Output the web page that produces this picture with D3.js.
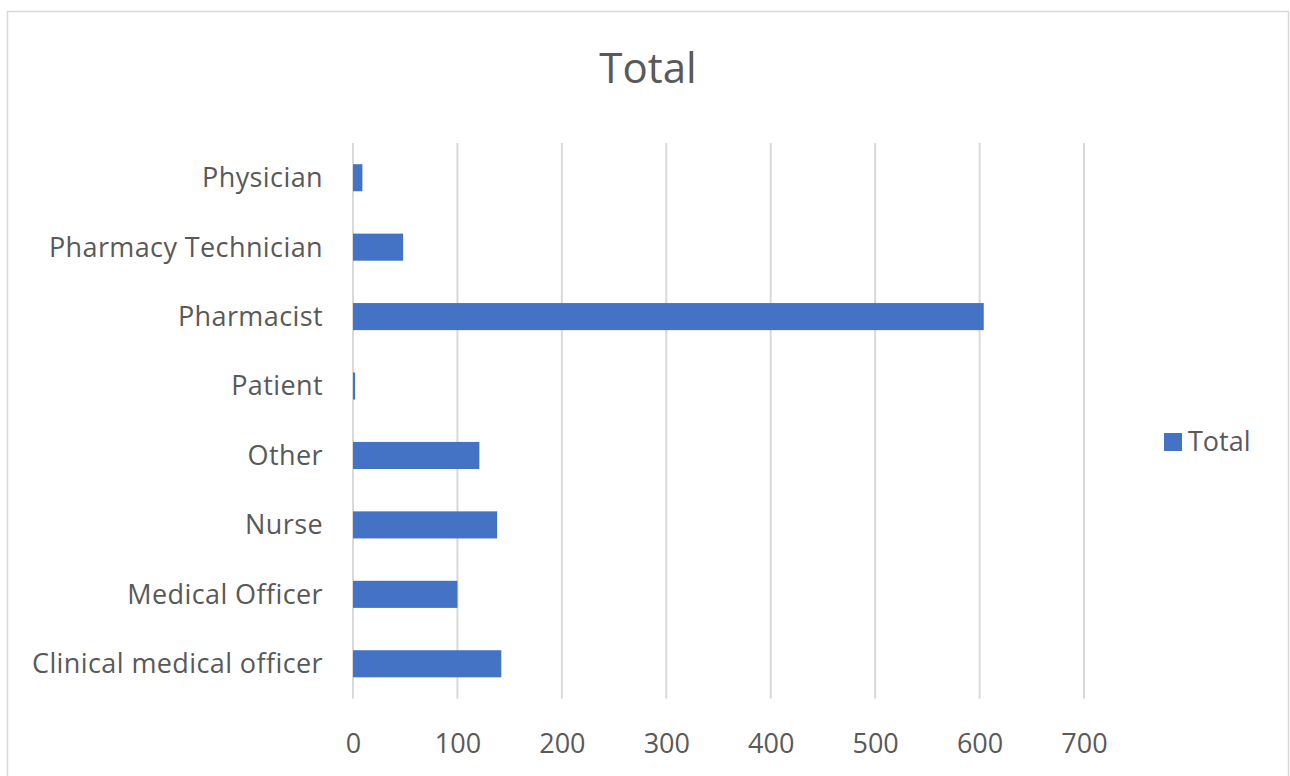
<!DOCTYPE html>
<html>
<head>
<meta charset="utf-8">
<script src="https://cdn.jsdelivr.net/npm/d3@7"></script>
<style>
  html, body { margin: 0; padding: 0; background: #fff; }
  svg { display: block; }
  text { font-family: "Open Sans", "Noto Sans", sans-serif; fill: #595959; }
</style>
</head>
<body>
<svg id="chart" width="1290" height="776"></svg>
<script>
const categories = ["Clinical medical officer", "Medical Officer", "Nurse", "Other", "Patient", "Pharmacist", "Pharmacy Technician", "Physician"];
const values = [142, 100, 138, 121, 2, 604, 48, 9];
const xTicks = [0, 100, 200, 300, 400, 500, 600, 700];
const seriesName = "Total";
const chartTitle = "Total";

const svg = d3.select("#chart");

// chart border
svg.append("rect")
  .attr("x", 7.5).attr("y", 11.5)
  .attr("width", 1281).attr("height", 790)
  .attr("fill", "#fff").attr("stroke", "#d9d9d9").attr("stroke-width", 1.5);

const plot = { left: 353, right: 1084, top: 143, bottom: 698.5 };

const x = d3.scaleLinear().domain([0, 700]).range([plot.left, plot.right]);
const y = d3.scaleBand()
  .domain(categories.slice().reverse())
  .range([plot.top, plot.bottom])
  .paddingInner(0.61).paddingOuter(0.305);

// gridlines
svg.append("g")
  .selectAll("line")
  .data(xTicks)
  .join("line")
  .attr("x1", d => x(d)).attr("x2", d => x(d))
  .attr("y1", plot.top).attr("y2", plot.bottom)
  .attr("stroke", "#d9d9d9").attr("stroke-width", 2);

// x axis labels
const xAxis = d3.axisBottom(x).tickValues(xTicks).tickSize(0).tickPadding(0);
const gx = svg.append("g").attr("transform", `translate(0, ${plot.bottom})`).call(xAxis);
gx.select(".domain").remove();
gx.selectAll("text")
  .attr("dy", null).attr("y", 54)
  .style("font-size", "27px").style("fill", "#595959")
  .style("font-family", '"Open Sans", sans-serif');

// y axis labels
const yAxis = d3.axisLeft(y).tickSize(0).tickPadding(30);
const gy = svg.append("g").attr("transform", `translate(${plot.left}, 0)`).call(yAxis);
gy.select(".domain").remove();
gy.selectAll("text")
  .attr("dy", "0.35em")
  .style("font-size", "27px").style("fill", "#595959")
  .style("letter-spacing", "0.4px")
  .style("font-family", '"Open Sans", sans-serif');

// bars
svg.append("g")
  .selectAll("rect")
  .data(categories.map((c, i) => ({ c, v: values[i] })))
  .join("rect")
  .attr("x", x(0))
  .attr("y", d => y(d.c))
  .attr("width", d => x(d.v) - x(0))
  .attr("height", y.bandwidth())
  .attr("fill", "#4472C4");

// title
svg.append("text")
  .attr("x", 648).attr("y", 83)
  .attr("text-anchor", "middle")
  .style("font-size", "42px")
  .text(chartTitle);

// legend
svg.append("rect")
  .attr("x", 1164).attr("y", 433).attr("width", 18).attr("height", 18)
  .attr("fill", "#4472C4");
svg.append("text")
  .attr("x", 1188).attr("y", 451)
  .style("font-size", "27px")
  .text(seriesName);
</script>
</body>
</html>
